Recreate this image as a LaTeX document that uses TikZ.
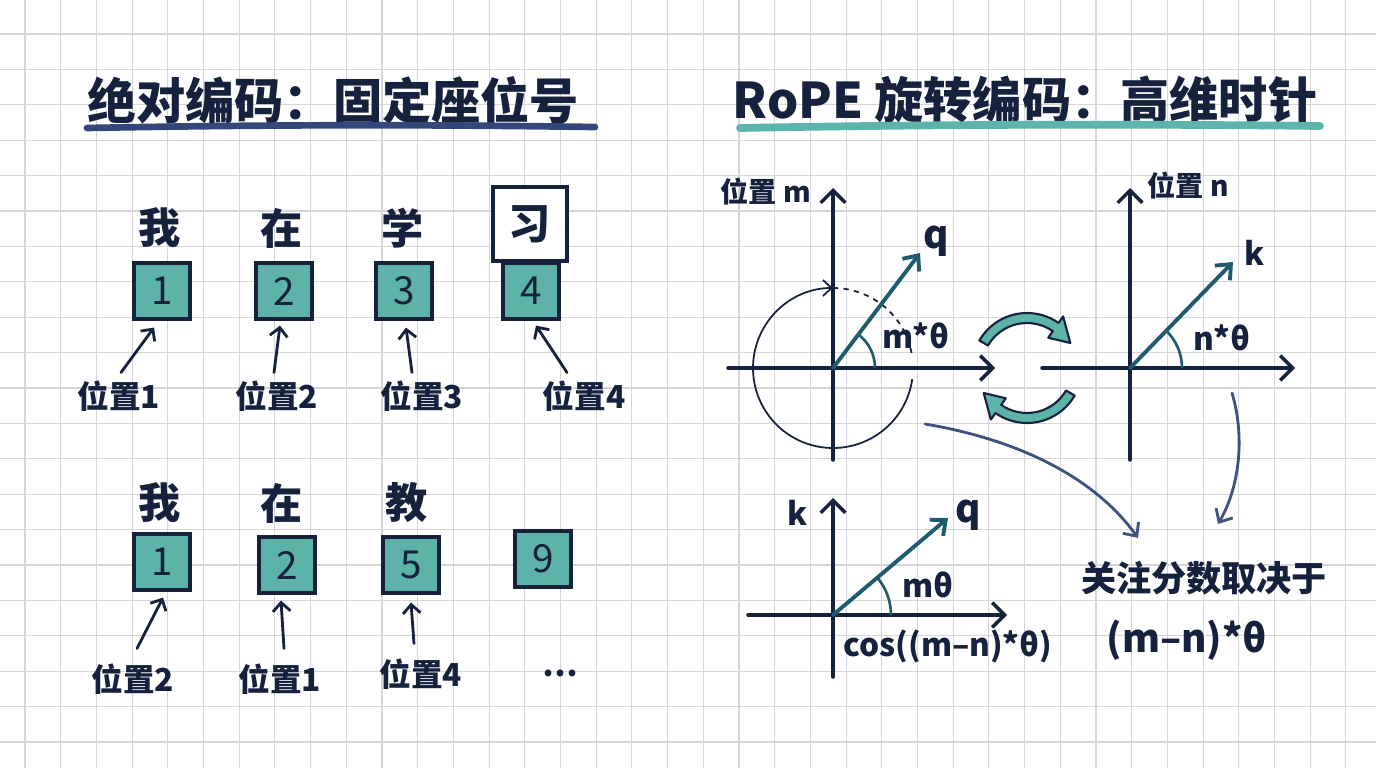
\documentclass[tikz,border=0pt]{standalone}
\usepackage{fontspec}
\setmainfont{Noto Sans CJK SC}
\usetikzlibrary{arrows.meta,calc}

\definecolor{ink}{HTML}{15213D}
\definecolor{gridgray}{HTML}{D6D6D9}
\definecolor{slotteal}{HTML}{5DB3A7}
\definecolor{underA}{HTML}{33477A}
\definecolor{underB}{HTML}{5CB4AD}
\definecolor{vecteal}{HTML}{1F5B6E}
\definecolor{linkblue}{HTML}{3E5180}

\tikzset{
  gridline/.style={draw=gridgray, line width=0.6pt},
  title/.style={text=ink, font=\fontsize{28}{30}\selectfont\bfseries},
  token/.style={text=ink, font=\fontsize{24}{26}\selectfont\bfseries},
  slot/.style={draw=ink, fill=slotteal, line width=1.8pt, minimum size=1.12cm, inner sep=0pt, text=ink, font=\fontsize{22}{24}\selectfont},
  wordbox/.style={draw=ink, fill=white, line width=2.2pt, minimum size=1.48cm, inner sep=0pt},
  poslabel/.style={text=ink, font=\fontsize{18}{20}\selectfont\bfseries},
  ptr/.style={draw=ink, line width=1.6pt, line cap=round, -{Straight Barb[length=5pt, width=10pt]}},
  axis/.style={draw=ink, line width=2pt, line cap=round, -{Straight Barb[length=7pt, width=14pt]}},
  vec/.style={draw=vecteal, line width=2.2pt, line cap=round, -{Straight Barb[length=7pt, width=12pt]}},
  angarc/.style={draw=vecteal, line width=1.5pt},
  orbit/.style={draw=ink, line width=1pt},
  veclabel/.style={text=ink, font=\fontsize{22}{24}\selectfont\bfseries},
  mathlabel/.style={text=ink, font=\fontsize{18}{20}\selectfont\bfseries},
  rotarrow/.style={fill=slotteal, draw=ink, line width=1.2pt, line join=round},
  link/.style={draw=linkblue, line width=1.6pt, line cap=round, -{Straight Barb[length=6pt, width=11pt]}},
  note/.style={text=ink, font=\fontsize{20}{22}\selectfont\bfseries},
}

\begin{document}
\begin{tikzpicture}[x=0.02cm, y=-0.02cm]
\useasboundingbox (0,0) rectangle (1376,768);
\fill[white] (0,0) rectangle (1376,768);

% paper grid
\foreach \i in {0,...,37}
	\draw[gridline] ({25+35.7*\i},0) -- ({25+35.7*\i},768);
\foreach \j in {0,...,20}
	\draw[gridline] (0,{34+35.4*\j}) -- (1376,{34+35.4*\j});

% titles
\node[title] (absTitle) at (333,100) {绝对编码：固定座位号};
\node[title] (ropeTitle) at (1025,100) {RoPE 旋转编码：高维时针};
\draw[line width=3.8pt, line cap=round, draw=underA] (87,128) .. controls (300,124) and (450,125) .. (595,127);
\draw[line width=4.4pt, line cap=round, draw=underB] (740,128) .. controls (950,124) and (1150,124) .. (1320,126);

% sentence 1
\foreach \n/\w/\x in {1/我/160, 2/在/282, 3/学/403}
	\node[token] (tokA\n) at (\x,228) {\w};
\node[wordbox] (boxA4) at (530,224) {};
\node[token] (tokA4) at (530,224) {习};
\foreach \n/\x in {1/162, 2/284, 3/404, 4/531}
	\node[slot] (slotA\n) at (\x,291) {\n};
\foreach \n/\x in {1/119, 2/277, 3/422, 4/584}
	\node[poslabel] (posA\n) at (\x,396) {位置\n};
\foreach \n/\u/\v/\w in {1/2/-8/7, 2/-3/-4/5, 3/-10/2/7, 4/-17/5/5}
	\draw[ptr] ($(posA\n.north)+(\u,-2)$) -- ($(slotA\n.south)+(\v,\w)$);

% sentence 2
\foreach \n/\w/\x in {1/我/160, 2/在/282, 3/教/407}
	\node[token] (tokB\n) at (\x,503) {\w};
\foreach \n/\d/\x/\y in {1/1/162/562, 2/2/287/565, 3/5/411/565, 4/9/543/559}
	\node[slot] (slotB\n) at (\x,\y) {\d};
\foreach \n/\p/\x/\y in {1/2/133/679, 2/1/280/679, 3/4/421/674}
	\node[poslabel] (posB\n) at (\x,\y) {位置\p};
\node[poslabel] (posB4) at (560,673) {…};
\foreach \n/\u/\v/\w in {1/4/1/6, 2/4/-6/6, 3/-7/0/8}
	\draw[ptr] ($(posB\n.north)+(\u,-9)$) -- ($(slotB\n.south)+(\v,\w)$);

% query at position m
\coordinate (oA) at (833,368);
\draw[axis] (728,368) -- (995,368);
\draw[axis] (833,460) -- (833,188);
\node[mathlabel, font=\fontsize{16}{18}\selectfont\bfseries] (posM) at (766,192) {位置 m};
\draw[orbit, -{Straight Barb[length=5pt, width=9pt]}] ($(oA)+(8:80)$) arc[start angle=8, end angle=270, radius=80];
\draw[orbit, dashed] ($(oA)+(-90:80)$) arc[start angle=-90, end angle=-10, radius=80];
\coordinate (qA) at (920,253);
\draw[vec] (oA) -- (qA);
\node[veclabel] (qALabel) at (936,241) {q};
\draw[angarc] ($(oA)+(42,0)$) arc[start angle=0, end angle=-53, radius=42];
\node[mathlabel] (angA) at (916,336) {m*θ};

% rotation between the two
\begin{scope}[shift={(1027,368)}]
\filldraw[rotarrow] (-150:55) arc[start angle=-150, end angle=-55, radius=55] -- (-55:63) -- (-30:50) -- (-55:37) -- (-55:45) arc[start angle=-55, end angle=-150, radius=45] -- cycle;
\filldraw[rotarrow] (30:55) arc[start angle=30, end angle=125, radius=55] -- (125:63) -- (150:50) -- (125:37) -- (125:45) arc[start angle=125, end angle=30, radius=45] -- cycle;
\end{scope}

% key at position n
\coordinate (oB) at (1130,368);
\draw[axis] (1042,368) -- (1295,368);
\draw[axis] (1130,460) -- (1130,188);
\node[mathlabel, font=\fontsize{16}{18}\selectfont\bfseries] (posN) at (1188,186) {位置 n};
\coordinate (kB) at (1233,262);
\draw[vec] (oB) -- (kB);
\node[veclabel, font=\fontsize{18}{20}\selectfont\bfseries] (kBLabel) at (1255,253) {k};
\draw[angarc] ($(oB)+(52,0)$) arc[start angle=0, end angle=-46, radius=52];
\node[mathlabel] (angB) at (1222,338) {n*θ};

% relative angle
\coordinate (oC) at (833,615);
\draw[axis] (748,615) -- (1007,615);
\draw[axis] (833,677) -- (833,498);
\node[veclabel, font=\fontsize{18}{20}\selectfont\bfseries] (kCLabel) at (798,513) {k};
\coordinate (qC) at (948,518);
\draw[vec] (oC) -- (qC);
\node[veclabel] (qCLabel) at (968,515) {q};
\draw[angarc] ($(oC)+(58,0)$) arc[start angle=0, end angle=-40, radius=58];
\node[mathlabel] (angC) at (928,585) {mθ};
\node[mathlabel] (cosC) at (948,646) {cos((m–n)*θ)};

% result
\node[note] (focus) at (1204,578) {关注分数取决于};
\node[note, font=\fontsize{22}{24}\selectfont\bfseries] (delta) at (1187,640) {(m–n)*θ};
\coordinate (fromA) at (925,424);
\coordinate (fromB) at (1232,393);
\draw[link] (fromA) .. controls (1020,440) and (1095,478) .. ($(focus.north)+(-66,-17)$);
\draw[link] (fromB) .. controls (1246,440) and (1238,490) .. ($(focus.north)+(14,-31)$);
\end{tikzpicture}
\end{document}
